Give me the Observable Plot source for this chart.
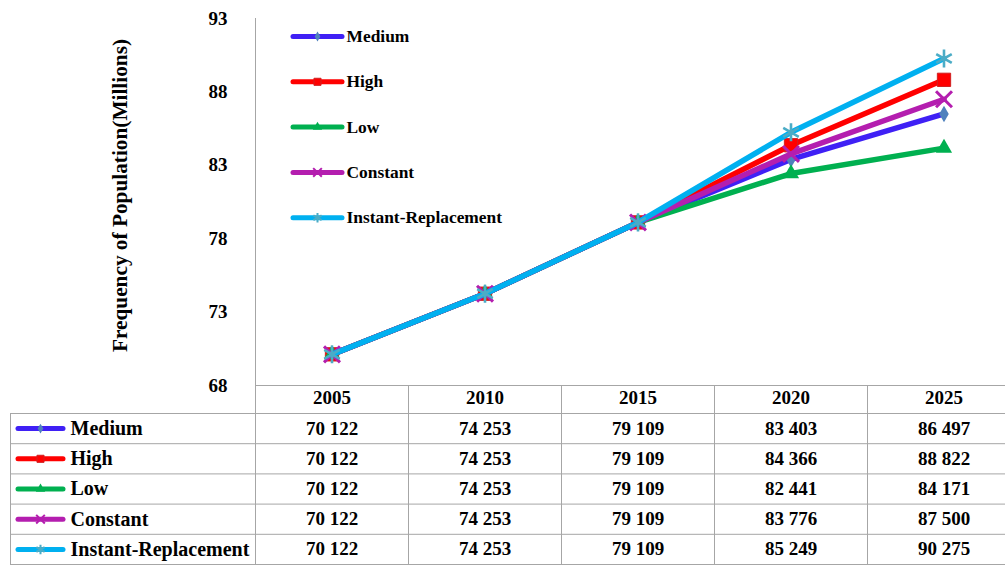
<!DOCTYPE html>
<html><head><meta charset="utf-8">
<script src="https://cdn.jsdelivr.net/npm/d3@7"></script>
<script src="https://cdn.jsdelivr.net/npm/@observablehq/plot@0.6"></script>
<style>
html,body{margin:0;padding:0;background:#fff;overflow:hidden;width:1005px;height:565px}
#chart svg{display:block}
</style></head><body><div id="chart"></div>
<script>
// ---- data ----
const years = [2005, 2010, 2015, 2020, 2025];
const seriesNames = ["Medium", "High", "Low", "Constant", "Instant-Replacement"];
const medium   = [70122, 74253, 79109, 83403, 86497];
const high     = [70122, 74253, 79109, 84366, 88822];
const low      = [70122, 74253, 79109, 82441, 84171];
const constant = [70122, 74253, 79109, 83776, 87500];
const instant  = [70122, 74253, 79109, 85249, 90275];
const yTicks = [68, 73, 78, 83, 88, 93];
const yTitle = "Frequency of Population(Millions)";

const seriesValues = [medium, high, low, constant, instant];

// ---- styles ----
const FONT = "'Liberation Serif', 'Times New Roman', serif";
const GRID = "#a6a6a6";
const styles = [
  {line: "#3f20f5", symbol: "diamond",  fill: "#4f81bd", stroke: "none",    sw: 0,   r: 5,   lr: 3},
  {line: "#ff0000", symbol: "square",   fill: "#ff0000", stroke: "#d02020", sw: 1,   r: 7.5, lr: 4},
  {line: "#00b050", symbol: "triangle", fill: "#00b050", stroke: "none",    sw: 0,   r: 6,   lr: 3.5},
  {line: "#b41eaf", symbol: "times",    fill: "none",    stroke: "#b41eaf", sw: 3,   r: 7.3, lr: 4},
  {line: "#00b0f0", symbol: "asterisk", fill: "none",    stroke: "#4bacc6", sw: 2.6, r: 8.5, lr: 4.5}
];

const half = (years[1] - years[0]) / 2;
const xDomain = [years[0] - half, years[years.length - 1] + half];
const xRange = [255, 1020];
const yDomain = [yTicks[0], yTicks[yTicks.length - 1]];
const boundaries = years.map(y => y - half);
const xs = Plot.scale({x: {domain: xDomain, range: xRange}});
const ys = Plot.scale({y: {domain: yDomain, range: [385, 18]}});
const fmt = v => d3.format(",")(v).replace(/,/g, " ");

// ---- chart ----
const chartMarks = [
  Plot.ruleY([yDomain[0]], {stroke: GRID}),
  Plot.ruleX([xDomain[0]], {y1: yDomain[0], y2: yDomain[1], stroke: GRID}),
  Plot.axisX({ticks: boundaries, tickSize: 28, tickFormat: () => "", stroke: GRID, label: null}),
  Plot.axisX({ticks: years, tickSize: 0, tickPadding: 5, tickFormat: d => String(d), label: null, fill: "#000"}),
  Plot.axisY({ticks: yTicks, tickSize: 0, tickPadding: 28, label: null, fill: "#000"}),
  Plot.text([yTitle], {x: xs.invert(120), y: ys.invert(195), rotate: -90, fontSize: 21.3, fontWeight: "bold", fill: "#000"})
];

const legendTop = 36, legendStep = 45.3;
seriesNames.forEach((name, si) => {
  const st = styles[si];
  const data = years.map((yr, i) => ({year: yr, value: seriesValues[si][i] / 1000}));
  chartMarks.push(
    Plot.line(data, {x: "year", y: "value", stroke: st.line, strokeWidth: 5.5, strokeLinejoin: "round", strokeLinecap: "round"}),
    Plot.dot(data, {x: "year", y: "value", symbol: st.symbol, r: st.r, fill: st.fill, stroke: st.stroke, strokeWidth: st.sw})
  );
  const ly = ys.invert(legendTop + si * legendStep);
  chartMarks.push(
    Plot.ruleY([ly], {x1: xs.invert(293), x2: xs.invert(342), stroke: st.line, strokeWidth: 5, strokeLinecap: "round"}),
    Plot.dot([ly], {x: xs.invert(317), y: d => d, symbol: st.symbol, r: st.lr, fill: st.fill, stroke: st.stroke, strokeWidth: Math.min(st.sw, 2)}),
    Plot.text([name], {x: xs.invert(346), y: ly, textAnchor: "start", fontSize: 17.4, fontWeight: "bold", fill: "#000"})
  );
});

const chart = Plot.plot({
  width: 1005, height: 413,
  marginLeft: 255, marginRight: 0, marginTop: 18, marginBottom: 28,
  x: {domain: xDomain, range: xRange},
  y: {domain: yDomain},
  style: {fontFamily: FONT, fontSize: "19px", fontWeight: "bold", color: "#000", background: "#fff"},
  marks: chartMarks
});

// ---- table ----
const rowIdx = seriesNames.map((_, i) => i);
const tableMarks = [
  Plot.ruleY([0, ...rowIdx.map(i => i + 1)], {stroke: GRID}),
  Plot.ruleX(boundaries, {stroke: GRID}),
  Plot.ruleX([xs.invert(10)], {stroke: GRID})
];
seriesNames.forEach((name, si) => {
  const st = styles[si];
  const yc = si + 0.5;
  tableMarks.push(
    Plot.ruleY([yc], {x1: xs.invert(18), x2: xs.invert(63), stroke: st.line, strokeWidth: 5, strokeLinecap: "round"}),
    Plot.dot([yc], {x: xs.invert(40), y: d => d, symbol: st.symbol, r: st.lr, fill: st.fill, stroke: st.stroke, strokeWidth: Math.min(st.sw, 2)}),
    Plot.text([name], {x: xs.invert(70), y: yc, textAnchor: "start", fontSize: 20, fontWeight: "bold", fill: "#000"}),
    Plot.text(years.map((yr, i) => ({year: yr, v: seriesValues[si][i]})), {x: "year", y: () => yc, text: d => fmt(d.v), fontSize: 19, fontWeight: "bold", fill: "#000"})
  );
});

const table = Plot.plot({
  width: 1005, height: 152,
  marginLeft: 10, marginRight: 0, marginTop: 0, marginBottom: 0,
  x: {domain: xDomain, range: xRange, axis: null},
  y: {domain: [0, seriesNames.length], range: [0, 151], axis: null},
  style: {fontFamily: FONT, fontSize: "19px", fontWeight: "bold", color: "#000", background: "#fff"},
  marks: tableMarks
});

document.getElementById("chart").append(chart, table);
</script>
</body></html>
